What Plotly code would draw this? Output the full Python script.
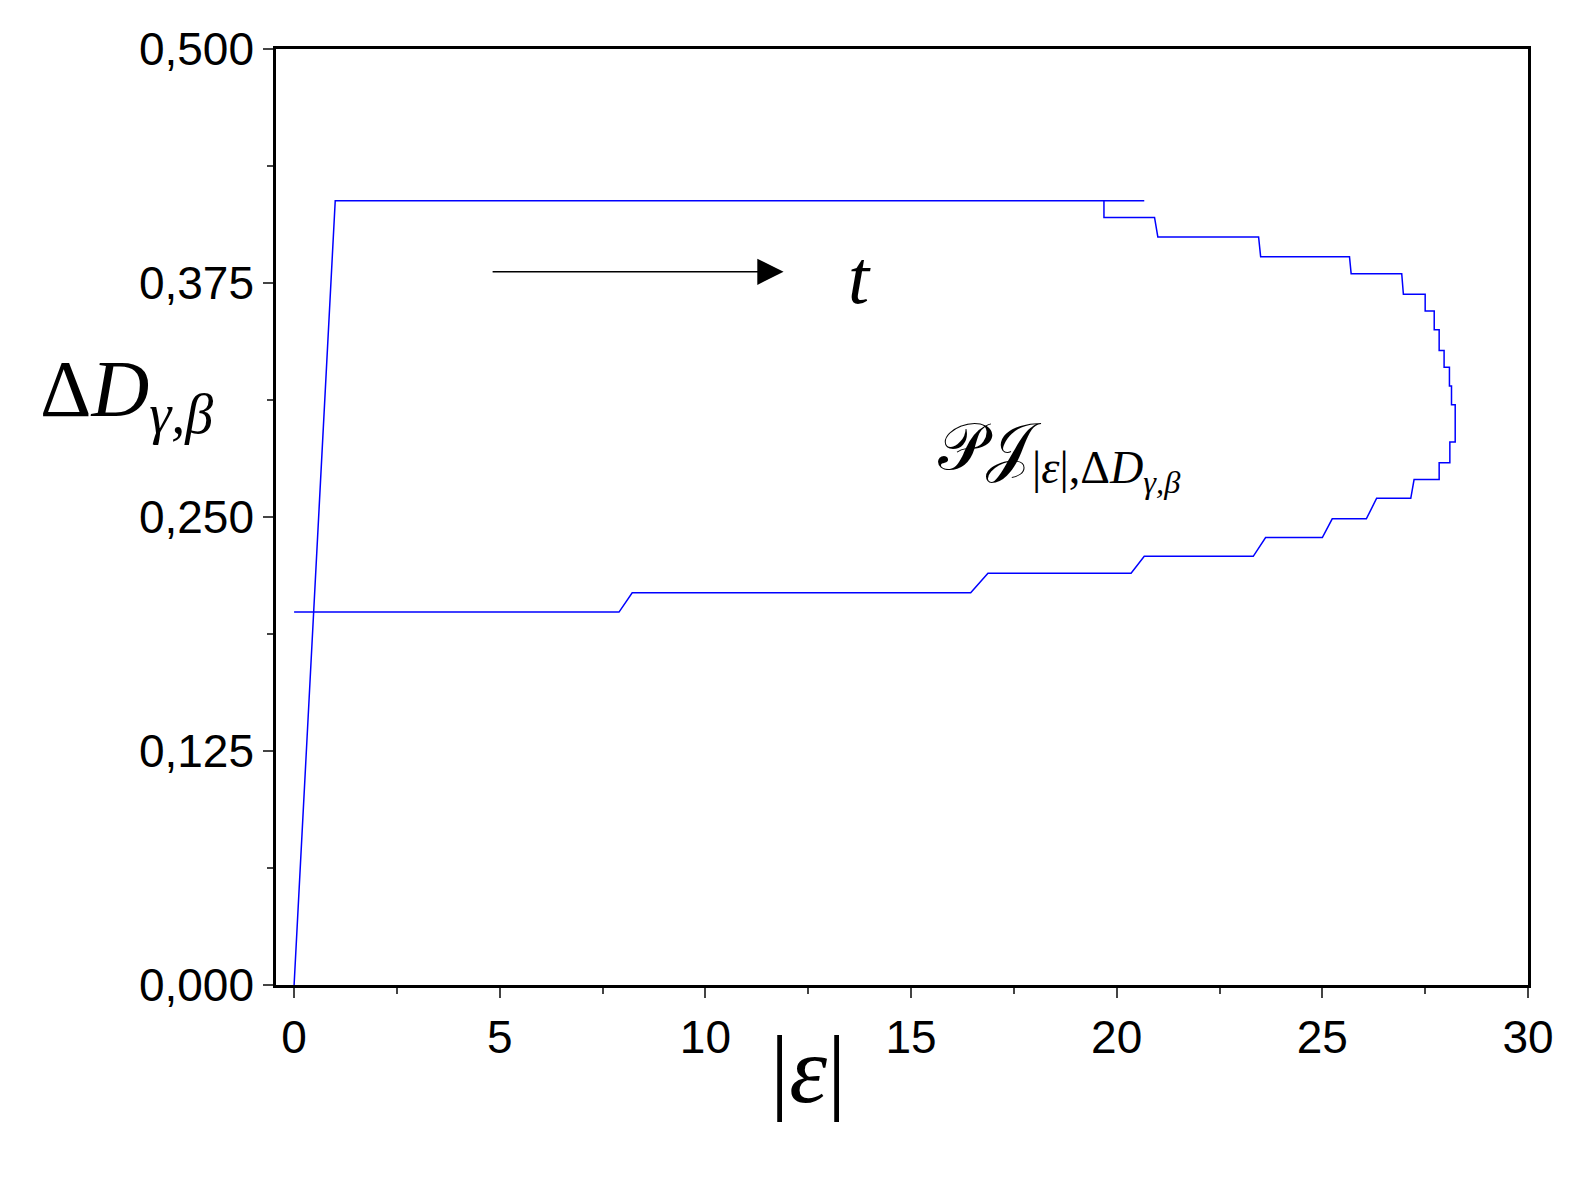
import plotly.graph_objects as go

x_vals = [0, 1.0, 20.67, 19.69, 19.69, 20.92, 21.0, 23.45, 23.5, 25.66, 25.7, 26.93, 26.97, 27.5, 27.5, 27.72, 27.72,
          27.84, 27.84, 27.96, 27.96, 28.09, 28.09, 28.14, 28.14, 28.23, 28.23, 28.1, 28.1, 27.84, 27.84,
          27.23, 27.15, 26.32, 26.07, 25.24, 25.0, 23.62, 23.32, 20.67, 20.35, 16.87, 16.45, 8.22, 7.9, 0]
y_vals = [0, 0.419, 0.419, 0.419, 0.410, 0.410, 0.3996, 0.3996, 0.389, 0.389, 0.380, 0.380, 0.369, 0.369, 0.360,
          0.360, 0.350, 0.350, 0.339, 0.339, 0.330, 0.330, 0.320, 0.320, 0.310, 0.310, 0.290, 0.290, 0.279,
          0.279, 0.270, 0.270, 0.260, 0.260, 0.249, 0.249, 0.239, 0.239, 0.229, 0.229, 0.220, 0.220,
          0.2095, 0.2095, 0.1992, 0.1992]
y_ticks = [0, 0.125, 0.25, 0.375, 0.5]
y_labels = ["0,000", "0,125", "0,250", "0,375", "0,500"]
x_ticks = [0, 5, 10, 15, 20, 25, 30]

fig = go.Figure(go.Scatter(x=x_vals, y=y_vals, mode="lines", line=dict(color="#0000ff", width=1.5)))
axis_font = dict(family="Arial", size=46, color="black")
fig.update_layout(
    width=1586, height=1193, plot_bgcolor="white", paper_bgcolor="white", showlegend=False,
    margin=dict(l=268, r=66, t=41, b=216),
    xaxis=dict(range=[-0.44, 30], tickvals=x_ticks, ticks="outside", ticklen=10, tickwidth=2,
               showline=True, linewidth=2.5, linecolor="black", mirror=True, showgrid=False, zeroline=False,
               tickfont=axis_font, minor=dict(dtick=2.5, tick0=0, ticks="outside", ticklen=6, tickwidth=2)),
    yaxis=dict(range=[0, 0.5], tickvals=y_ticks, ticktext=y_labels, ticks="outside", ticklen=10, tickwidth=2,
               showline=True, linewidth=2.5, linecolor="black", mirror=True, showgrid=False, zeroline=False,
               tickfont=axis_font, minor=dict(dtick=0.0625, tick0=0, ticks="outside", ticklen=6, tickwidth=2)),
)
fig.add_annotation(x=11.9, y=0.381, ax=4.79, ay=0.381, xref="x", yref="y", axref="x", ayref="y",
                   showarrow=True, arrowhead=2, arrowsize=3.5, arrowwidth=1.5, arrowcolor="black", text="")
fig.add_annotation(x=13.75, y=0.378, xref="x", yref="y", text="<i>t</i>", showarrow=False,
                   font=dict(family="Liberation Serif", size=76, color="black"))
fig.add_annotation(x=18.6, y=0.283, xref="x", yref="y", text="𝒫𝒥<sub>|<i>ε</i>|,Δ<i>D</i><sub><i>γ,β</i></sub></sub>",
                   showarrow=False, font=dict(family="Liberation Serif", size=66, color="black"))
fig.add_annotation(x=-0.19, y=0.63, xref="paper", yref="paper", text="Δ<i>D</i><sub><i>γ,β</i></sub>",
                   showarrow=False, font=dict(family="Liberation Serif", size=80, color="black"))
fig.add_annotation(x=0.425, y=-0.15, xref="paper", yref="paper", text="|<i>ε</i>|", showarrow=False,
                   font=dict(family="Liberation Serif", size=96, color="black"))
fig.write_html("out.html")
